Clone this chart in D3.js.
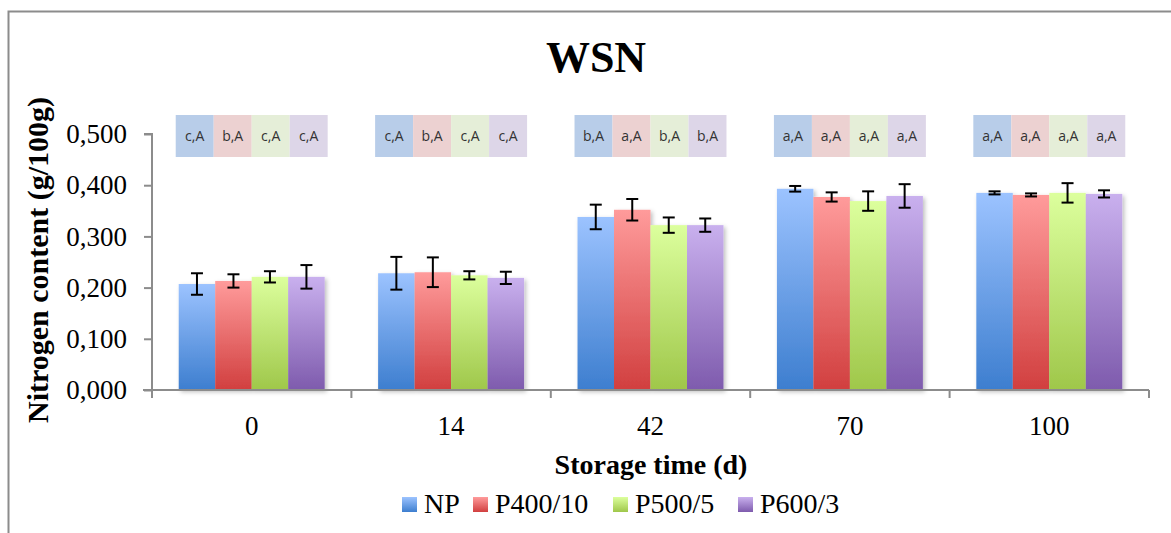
<!DOCTYPE html>
<html>
<head>
<script src="https://d3js.org/d3.v7.min.js" charset="utf-8"></script>
<style type="text/css">
	body { margin: 0; background: #fff; }
	svg { display: block; }
</style>
</head>
<body>
<script>
// storage time (d)
var days = ["0", "14", "42", "70", "100"];
var series = ["NP", "P400/10", "P500/5", "P600/3"];

// nitrogen content (g/100g), one array per treatment
var NP    = [0.207, 0.228, 0.338, 0.393, 0.385];
var P400  = [0.213, 0.230, 0.352, 0.377, 0.381];
var P500  = [0.221, 0.224, 0.322, 0.369, 0.385];
var P600  = [0.221, 0.219, 0.322, 0.379, 0.383];

// error bars (+/-)
var errNP   = [0.021, 0.032, 0.024, 0.0055, 0.003];
var errP400 = [0.013, 0.029, 0.021, 0.009, 0.003];
var errP500 = [0.011, 0.008, 0.015, 0.019, 0.019];
var errP600 = [0.023, 0.012, 0.013, 0.023, 0.007];

// significance letters above each bar
var lettersNP   = ["c,A", "c,A", "b,A", "a,A", "a,A"];
var lettersP400 = ["b,A", "b,A", "a,A", "a,A", "a,A"];
var lettersP500 = ["c,A", "c,A", "b,A", "a,A", "a,A"];
var lettersP600 = ["c,A", "c,A", "b,A", "a,A", "a,A"];

var yTicks = [0, 0.1, 0.2, 0.3, 0.4, 0.5];

var values = [NP, P400, P500, P600];
var errors = [errNP, errP400, errP500, errP600];
var letters = [lettersNP, lettersP400, lettersP500, lettersP600];

var topColors = ["#9cc3ff", "#ff9b9b", "#dcff9d", "#c9b0ee"];
var botColors = ["#3d7ecf", "#d13f3f", "#9fc74a", "#7e5bad"];
var boxColors = ["#b8cde9", "#ecd1d1", "#e5eed8", "#ddd6e8"];

var w = 1171, h = 533;
var serif = "'Liberation Serif', 'Times New Roman', serif";

var svg = d3.select("body").append("svg")
	.attr("width", w)
	.attr("height", h);

var defs = svg.append("defs");
series.forEach(function(s, i) {
	var g = defs.append("linearGradient")
		.attr("id", "grad" + i)
		.attr("x1", 0).attr("y1", 0).attr("x2", 0).attr("y2", 1);
	g.append("stop").attr("offset", "0%").attr("stop-color", topColors[i]);
	g.append("stop").attr("offset", "100%").attr("stop-color", botColors[i]);
});
var shadow = defs.append("filter").attr("id", "shadow")
	.attr("x", "-10%").attr("y", "-10%").attr("width", "130%").attr("height", "130%");
shadow.append("feDropShadow")
	.attr("dx", 2).attr("dy", 2).attr("stdDeviation", 2)
	.attr("flood-color", "#000").attr("flood-opacity", 0.25);

// chart border
svg.append("rect")
	.attr("x", 8.5).attr("y", 11.5)
	.attr("width", 1200).attr("height", 560)
	.attr("fill", "none")
	.attr("stroke", "#8c8c8c")
	.attr("stroke-width", 2);

var x = d3.scaleBand()
	.domain(days)
	.range([152, 1149])
	.paddingInner(0.268)
	.paddingOuter(0.134);

var x1 = d3.scaleBand()
	.domain(d3.range(series.length))
	.range([0, x.bandwidth()]);

var y = d3.scaleLinear()
	.domain([0, 0.5])
	.range([390, 134]);

// title
svg.append("text")
	.attr("x", 596).attr("y", 72)
	.attr("text-anchor", "middle")
	.style("font-family", serif)
	.style("font-weight", "bold")
	.style("font-size", "44px")
	.text("WSN");

// bars
var groups = svg.selectAll("g.day")
	.data(days)
	.enter().append("g")
	.attr("class", "day")
	.attr("transform", function(d) { return "translate(" + x(d) + ",0)"; });

groups.each(function(d, j) {
	var g = d3.select(this);
	var rows = series.map(function(s, i) {
		return { i: i, v: values[i][j], e: errors[i][j], l: letters[i][j] };
	});

	g.append("g").attr("filter", "url(#shadow)")
		.selectAll("rect")
		.data(rows)
		.enter().append("rect")
		.attr("x", function(r) { return x1(r.i); })
		.attr("width", x1.bandwidth())
		.attr("y", function(r) { return y(r.v); })
		.attr("height", function(r) { return y(0) - y(r.v); })
		.attr("fill", function(r) { return "url(#grad" + r.i + ")"; });

	var eb = g.selectAll("g.err")
		.data(rows)
		.enter().append("g")
		.attr("class", "err")
		.attr("stroke", "#000")
		.attr("stroke-width", 2);
	eb.append("line")
		.attr("x1", function(r) { return x1(r.i) + x1.bandwidth() / 2; })
		.attr("x2", function(r) { return x1(r.i) + x1.bandwidth() / 2; })
		.attr("y1", function(r) { return y(r.v + r.e); })
		.attr("y2", function(r) { return y(r.v - r.e); });
	eb.append("line")
		.attr("x1", function(r) { return x1(r.i) + x1.bandwidth() / 2 - 6; })
		.attr("x2", function(r) { return x1(r.i) + x1.bandwidth() / 2 + 6; })
		.attr("y1", function(r) { return y(r.v + r.e); })
		.attr("y2", function(r) { return y(r.v + r.e); });
	eb.append("line")
		.attr("x1", function(r) { return x1(r.i) + x1.bandwidth() / 2 - 6; })
		.attr("x2", function(r) { return x1(r.i) + x1.bandwidth() / 2 + 6; })
		.attr("y1", function(r) { return y(r.v - r.e); })
		.attr("y2", function(r) { return y(r.v - r.e); });

	// letter boxes
	var bw = (x.bandwidth() + 6) / series.length;
	var box = g.selectAll("g.box")
		.data(rows)
		.enter().append("g")
		.attr("class", "box");
	box.append("rect")
		.attr("x", function(r) { return -3 + r.i * bw; })
		.attr("y", 115)
		.attr("width", bw)
		.attr("height", 42)
		.attr("fill", function(r) { return boxColors[r.i]; });
	box.append("text")
		.attr("x", function(r) { return -3 + r.i * bw + bw / 2; })
		.attr("y", 141)
		.attr("text-anchor", "middle")
		.style("font-family", "'Open Sans', sans-serif")
		.style("font-size", "14px")
		.attr("fill", "#333")
		.text(function(r) { return r.l; });
});

// y axis
var yAxis = svg.append("g")
	.attr("transform", "translate(152,0)")
	.call(d3.axisLeft(y).tickValues(yTicks).tickSize(8).tickPadding(17)
		.tickFormat(function(d) { return d3.format(".3f")(d).replace(".", ","); }));
yAxis.select(".domain").attr("stroke", "#8c8c8c").attr("stroke-width", 2)
	.attr("d", "M-8," + y(0.5) + "H0V" + y(0));
yAxis.selectAll(".tick line").attr("stroke", "#8c8c8c").attr("stroke-width", 2);
yAxis.selectAll(".tick text")
	.style("font-family", serif)
	.style("font-size", "27px")
	.attr("fill", "#000");

// x axis
var xAxis = svg.append("g")
	.attr("transform", "translate(0,390)")
	.call(d3.axisBottom(x).tickSize(0).tickPadding(26));
xAxis.select(".domain").attr("stroke", "#8c8c8c").attr("stroke-width", 2)
	.attr("d", "M143,0H1149");
xAxis.selectAll(".tick text")
	.style("font-family", serif)
	.style("font-size", "27px")
	.attr("fill", "#000");
var bounds = [152].concat(days.map(function(d) { return x(d) + x.bandwidth() + x.step() * x.paddingInner() / 2; }));
bounds[bounds.length - 1] = 1149;
svg.append("g").selectAll("line")
	.data(bounds)
	.enter().append("line")
	.attr("x1", function(d) { return d; })
	.attr("x2", function(d) { return d; })
	.attr("y1", 390).attr("y2", 398)
	.attr("stroke", "#8c8c8c").attr("stroke-width", 2);

// axis titles
svg.append("text")
	.attr("transform", "translate(48,260) rotate(-90)")
	.attr("text-anchor", "middle")
	.style("font-family", serif)
	.style("font-weight", "bold")
	.style("font-size", "30px")
	.text("Nitrogen content (g/100g)");

svg.append("text")
	.attr("x", 651).attr("y", 474)
	.attr("text-anchor", "middle")
	.style("font-family", serif)
	.style("font-weight", "bold")
	.style("font-size", "28px")
	.text("Storage time (d)");

// legend
var legendX = [402, 473, 613, 738];
var legend = svg.selectAll("g.legend")
	.data(series)
	.enter().append("g")
	.attr("class", "legend")
	.attr("transform", function(d, i) { return "translate(" + legendX[i] + ",497)"; });
legend.append("rect")
	.attr("width", 15).attr("height", 15)
	.attr("fill", function(d, i) { return "url(#grad" + i + ")"; });
legend.append("text")
	.attr("x", 22).attr("y", 16)
	.style("font-family", serif)
	.style("font-size", "28px")
	.text(function(d) { return d; });
</script>
</body>
</html>
